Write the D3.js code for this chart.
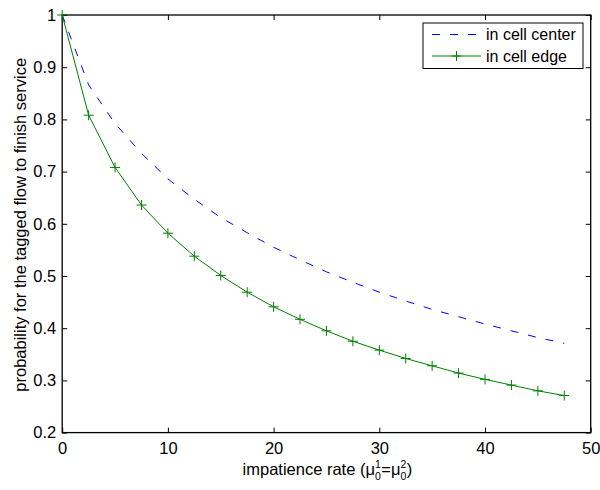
<!DOCTYPE html>
<html>
<head>
<meta charset="utf-8">
<script src="https://cdn.jsdelivr.net/npm/d3@7"></script>
<style>
  html, body { margin: 0; padding: 0; background: #fff; }
  svg { display: block; }
  text { font-family: "Liberation Sans", Arial, Helvetica, sans-serif; fill: #000; }
</style>
</head>
<body>
<svg id="chart" width="600" height="490"></svg>
<script>
// ---- data ----
const rates = [0, 2.5, 5, 7.5, 10, 12.5, 15, 17.5, 20, 22.5, 25, 27.5, 30, 32.5, 35, 37.5, 40, 42.5, 45, 47.5];
const centerProb = [1, 0.866, 0.792, 0.735, 0.686, 0.647, 0.612, 0.583, 0.555, 0.531, 0.508, 0.488, 0.469, 0.452, 0.436, 0.422, 0.408, 0.395, 0.382, 0.371];
const edgeProb = [1, 0.808, 0.708, 0.636, 0.582, 0.538, 0.501, 0.469, 0.441, 0.417, 0.395, 0.375, 0.358, 0.342, 0.328, 0.314, 0.302, 0.291, 0.280, 0.271];
const xTicks = [0, 10, 20, 30, 40, 50];
const yTicks = [0.2, 0.3, 0.4, 0.5, 0.6, 0.7, 0.8, 0.9, 1];
const seriesNames = ["in cell center", "in cell edge"];

// ---- layout ----
const L = 62.2, R = 590.7, T = 15, B = 432.6;
const FS = 16.5;
const svg = d3.select("#chart");
const x = d3.scaleLinear().domain([0, 50]).range([L, R]);
const y = d3.scaleLinear().domain([0.2, 1]).range([B, T]);

const fmtY = d => (d === 1 ? "1" : d3.format(".1f")(d));

// axes (ticks inward)
const axB = svg.append("g").attr("transform", `translate(0,${B})`)
  .call(d3.axisBottom(x).tickValues(xTicks).tickSizeInner(-5).tickSizeOuter(0).tickPadding(10));
const axT = svg.append("g").attr("transform", `translate(0,${T})`)
  .call(d3.axisTop(x).tickValues(xTicks).tickSizeInner(-5).tickSizeOuter(0).tickFormat(""));
const axL = svg.append("g").attr("transform", `translate(${L},0)`)
  .call(d3.axisLeft(y).tickValues(yTicks).tickSizeInner(-5).tickSizeOuter(0).tickPadding(6).tickFormat(fmtY));
const axR = svg.append("g").attr("transform", `translate(${R},0)`)
  .call(d3.axisRight(y).tickValues(yTicks).tickSizeInner(-5).tickSizeOuter(0).tickFormat(""));

[axB, axT, axL, axR].forEach(g => {
  g.select(".domain").remove();
  g.selectAll(".tick line").attr("stroke", "#000").attr("stroke-width", 1);
  g.selectAll("text").attr("font-size", FS).style("font-family", '"Liberation Sans", Arial, sans-serif').attr("fill", "#000");
});
axB.selectAll("text").attr("dy", "0.71em");

// box
svg.append("rect").attr("x", L).attr("y", T).attr("width", R - L).attr("height", B - T)
  .attr("fill", "none").attr("stroke", "#000").attr("stroke-width", 1.3);

// lines
const line = d3.line().x(d => x(d[0])).y(d => y(d[1]));
const centerData = rates.map((r, i) => [r, centerProb[i]]);
const edgeData = rates.map((r, i) => [r, edgeProb[i]]);

svg.append("path").datum(centerData).attr("d", line)
  .attr("fill", "none").attr("stroke", "#0000ff").attr("stroke-width", 1)
  .attr("stroke-dasharray", "8,10");
svg.append("path").datum(edgeData).attr("d", line)
  .attr("fill", "none").attr("stroke", "#008000").attr("stroke-width", 1);

const m = 5;
svg.append("g").selectAll("path").data(edgeData).join("path")
  .attr("d", d => `M${x(d[0]) - m},${y(d[1])}H${x(d[0]) + m}M${x(d[0])},${y(d[1]) - m}V${y(d[1]) + m}`)
  .attr("stroke", "#008000").attr("stroke-width", 1).attr("fill", "none");

// y axis label
svg.append("text")
  .attr("transform", `translate(26,${(T + B) / 2 + 1}) rotate(-90)`)
  .attr("text-anchor", "middle").attr("font-size", FS)
  .text("probability for the tagged flow to finish service");

// x axis label built from separate pieces (base text + stacked sub/superscripts)
const XB = 475, SS = 10.5;
const pieces = [
  { t: "impatience rate (\u03bc", kind: "base" },
  { sub: "0", sup: "1", kind: "script" },
  { t: "=\u03bc", kind: "base" },
  { sub: "0", sup: "2", kind: "script" },
  { t: ")", kind: "base" }
];
const xlg = svg.append("g");
let cx = 0;
pieces.forEach(p => {
  if (p.kind === "base") {
    const el = xlg.append("text").attr("x", cx).attr("y", XB).attr("font-size", FS).text(p.t);
    cx += el.node().getComputedTextLength();
  } else {
    const a = xlg.append("text").attr("x", cx).attr("y", XB - 7.5).attr("font-size", SS).text(p.sup);
    const b = xlg.append("text").attr("x", cx).attr("y", XB + 5).attr("font-size", SS).text(p.sub);
    cx += Math.max(a.node().getComputedTextLength(), b.node().getComputedTextLength()) + 0.5;
  }
});
xlg.attr("transform", `translate(${(L + R) / 2 + 1 - cx / 2},0)`);

// legend
const lg = svg.append("g");
lg.append("rect").attr("x", 423).attr("y", 23).attr("width", 160).attr("height", 45.5)
  .attr("fill", "#fff").attr("stroke", "#000").attr("stroke-width", 1);
const rows = [
  { name: seriesNames[0], color: "#0000ff", dash: "8,10", marker: false, yy: 34.5 },
  { name: seriesNames[1], color: "#008000", dash: null, marker: true, yy: 56 }
];
rows.forEach(r => {
  lg.append("line").attr("x1", 432).attr("x2", 481).attr("y1", r.yy).attr("y2", r.yy)
    .attr("stroke", r.color).attr("stroke-width", 1).attr("stroke-dasharray", r.dash);
  if (r.marker) {
    lg.append("path").attr("d", `M${456.5 - m},${r.yy}H${456.5 + m}M456.5,${r.yy - m}V${r.yy + m}`)
      .attr("stroke", r.color).attr("fill", "none");
  }
  lg.append("text").attr("x", 486).attr("y", r.yy).attr("dy", "0.35em").attr("font-size", 16).text(r.name);
});
</script>
</body>
</html>
